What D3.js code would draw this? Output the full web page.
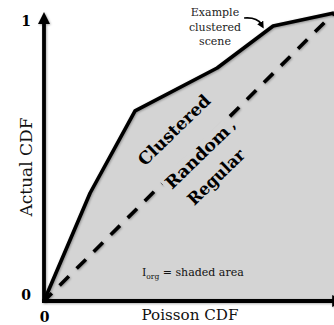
<!DOCTYPE html>
<html>
<head>
<meta charset="utf-8">
<script src="https://cdn.jsdelivr.net/npm/d3@7"></script>
<style>
  html, body { margin: 0; padding: 0; background: #fff; }
  svg { display: block; }
</style>
</head>
<body>
<script>
// Cumulative distribution of the example clustered scene against the Poisson CDF
const poissonCdf = [0, 0.159, 0.314, 0.597, 0.790, 1];
const actualCdf  = [0, 0.375, 0.660, 0.809, 0.955, 1];

// Tick labels for both axes
const yTicks = [0, 1];
const xTicks = [0];

// Regions of the plot, from above the diagonal to below it
const regionLabels = ["Clustered", "Random", "Regular"];
const calloutLines = ["Example", "clustered", "scene"];

const W = 334, H = 325;
const x = d3.scaleLinear([0, 1], [44, 334]);
const y = d3.scaleLinear([0, 1], [301, 13]);
const shade = "#d4d4d4";

const svg = d3.select("body").append("svg")
  .attr("width", W).attr("height", H);

const defs = svg.append("defs");
const shadow = defs.append("filter").attr("id", "soft")
  .attr("x", "-20%").attr("y", "-20%").attr("width", "140%").attr("height", "140%");
shadow.append("feDropShadow")
  .attr("dx", 0.8).attr("dy", 0.8).attr("stdDeviation", 0.8)
  .attr("flood-color", "#000").attr("flood-opacity", 0.35);

function arrowMarker(id, size) {
  defs.append("marker").attr("id", id)
    .attr("viewBox", "0 0 12 12")
    .attr("markerUnits", "userSpaceOnUse")
    .attr("markerWidth", size).attr("markerHeight", size)
    .attr("refX", 3).attr("refY", 6)
    .attr("orient", "auto")
    .append("path").attr("d", "M0,0 L12,6 L0,12 Z").attr("fill", "#000");
}
arrowMarker("axisArrow", 12);
arrowMarker("smallArrow", 7);

const pts = poissonCdf.map((p, i) => [p, actualCdf[i]]);

// Shaded area between the curve and the x axis
svg.append("path")
  .datum(pts)
  .attr("fill", shade)
  .attr("d", d3.area().x(d => x(d[0])).y0(y(0)).y1(d => y(d[1])));

// Diagonal: random (Poisson) reference
svg.append("line")
  .attr("x1", x(0)).attr("y1", y(0))
  .attr("x2", x(1)).attr("y2", y(1))
  .attr("stroke", "#000")
  .attr("stroke-width", 3.6)
  .attr("stroke-dasharray", "13,11")
  .attr("stroke-dashoffset", 2)
  .attr("filter", "url(#soft)");

// Observed CDF
svg.append("path")
  .datum(pts)
  .attr("fill", "none")
  .attr("stroke", "#000")
  .attr("stroke-width", 3.6)
  .attr("stroke-linejoin", "round")
  .attr("filter", "url(#soft)")
  .attr("d", d3.line().x(d => x(d[0])).y(d => y(d[1])));

// Axis lines with arrowheads
const axes = svg.append("g").attr("filter", "url(#soft)");
axes.append("line")
  .attr("x1", x(0)).attr("y1", y(0) + 2)
  .attr("x2", x(0)).attr("y2", y(1) + 8)
  .attr("stroke", "#000").attr("stroke-width", 3.8)
  .attr("marker-end", "url(#axisArrow)");
axes.append("line")
  .attr("x1", x(0) - 2).attr("y1", y(0))
  .attr("x2", x(1.004)).attr("y2", y(0))
  .attr("stroke", "#000").attr("stroke-width", 3.8)
  .attr("marker-end", "url(#axisArrow)");

// Tick labels
const serif = "'DejaVu Serif', serif";
const yAxis = svg.append("g")
  .attr("transform", `translate(${x(0)},0)`)
  .call(d3.axisLeft(y).tickValues(yTicks).tickSize(0).tickPadding(13).tickFormat(d3.format("d")));
yAxis.select(".domain").remove();
yAxis.selectAll("text")
  .attr("font-family", serif).attr("font-size", 14).attr("font-weight", "bold")
  .attr("fill", "#000")
  .attr("dy", d => d === 1 ? "0.92em" : "-0.08em");

const xAxis = svg.append("g")
  .attr("transform", `translate(0,${y(0)})`)
  .call(d3.axisBottom(x).tickValues(xTicks).tickSize(0).tickPadding(11).tickFormat(d3.format("d")));
xAxis.select(".domain").remove();
xAxis.selectAll("text")
  .attr("font-family", serif).attr("font-size", 14).attr("font-weight", "bold")
  .attr("fill", "#000");

// Axis titles
svg.append("text")
  .attr("x", (x(0) + x(1)) / 2 + 1).attr("y", 320)
  .attr("text-anchor", "middle")
  .attr("font-family", serif).attr("font-size", 15)
  .attr("textLength", 97).attr("lengthAdjust", "spacingAndGlyphs")
  .attr("fill", "#111")
  .text("Poisson CDF");

svg.append("text")
  .attr("transform", "translate(32,167) rotate(-90)")
  .attr("text-anchor", "middle")
  .attr("font-family", serif).attr("font-size", 16)
  .attr("textLength", 99).attr("lengthAdjust", "spacingAndGlyphs")
  .attr("fill", "#111")
  .text("Actual CDF");

// Region labels, set along the diagonal
const regionPos = [[0.448, 0.594, 93], [0.528, 0.500, 82], [0.593, 0.431, 72]];
const region = svg.append("g").selectAll("g")
  .data(regionLabels)
  .join("g")
  .attr("transform", (d, i) => `translate(${x(regionPos[i][0])},${y(regionPos[i][1])}) rotate(-44)`);

// "Random" sits on the diagonal, so it gets a knockout behind it
region.filter(d => d === "Random")
  .append("rect")
  .attr("x", (d, i) => -regionPos[1][2] / 2 - 3)
  .attr("y", -9)
  .attr("width", regionPos[1][2] + 6)
  .attr("height", 18)
  .attr("fill", shade);

region.append("text")
  .attr("text-anchor", "middle")
  .attr("dy", "0.36em")
  .attr("font-family", serif).attr("font-size", 17).attr("font-weight", "bold")
  .attr("textLength", d => regionPos[regionLabels.indexOf(d)][2])
  .attr("lengthAdjust", "spacingAndGlyphs")
  .attr("fill", "#000")
  .text(d => d);

region.filter(d => d === "Random")
  .append("text")
  .attr("x", regionPos[1][2] / 2 + 4)
  .attr("dy", "0.36em")
  .attr("font-family", serif).attr("font-size", 14).attr("font-weight", "bold")
  .attr("fill", "#000")
  .text(",");

// Callout for the example scene
const kink = pts[4];
svg.append("g").selectAll("text")
  .data(calloutLines)
  .join("text")
  .attr("x", 215).attr("y", (d, i) => 16 + i * 14.5)
  .attr("text-anchor", "middle")
  .attr("font-family", serif).attr("font-size", 11)
  .attr("fill", "#222")
  .text(d => d);

const kx = x(kink[0]), ky = y(kink[1]);
svg.append("path")
  .attr("d", `M${kx - 29},${ky - 8} Q${kx - 16},${ky - 9} ${kx - 12},${ky - 2}`)
  .attr("fill", "none").attr("stroke", "#000").attr("stroke-width", 1.6)
  .attr("marker-end", "url(#smallArrow)");

// Index definition
const idx = svg.append("text")
  .attr("x", 142).attr("y", 276)
  .attr("font-family", serif).attr("font-size", 11)
  .attr("fill", "#111");
idx.append("tspan").text("I");
idx.append("tspan").attr("font-size", 7.5).attr("dy", 2.5).text("org");
idx.append("tspan").attr("dy", -2.5).text(" = shaded area");
</script>
</body>
</html>
